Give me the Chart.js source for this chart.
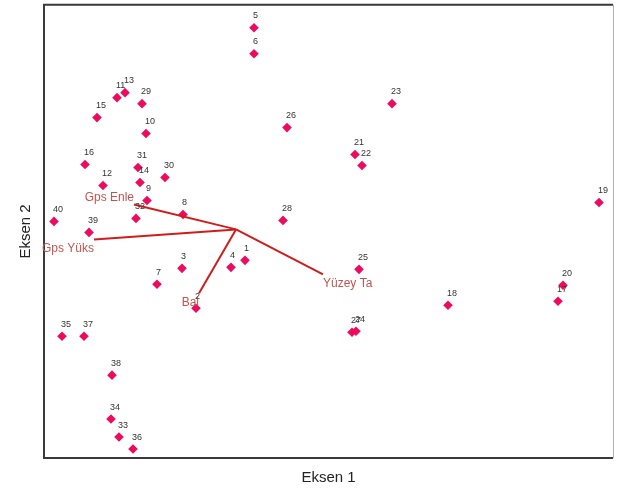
<!DOCTYPE html>
<html>
<head>
    <title>Eksen 1 / Eksen 2</title>
    <script src="https://cdn.jsdelivr.net/npm/chart.js"></script>
    <style>
        body { margin: 0; padding: 0; background: #fff; }
        canvas { display: block; }
    </style>
</head>
<body>
<canvas id="biplot" width="620" height="491"></canvas>
<script>
    // Noktalar (site skorlari)
    var siteLabels = ['1','2','3','4','5','6','7','8','9','10','11','12','13','14','15','16','17','18','19','20',
                      '21','22','23','24','25','26','27','28','29','30','31','32','33','34','35','36','37','38','39','40'];
    var siteX = [201,152,138,187,210,210,113,139,103,102, 73, 59, 81, 96, 53, 41,514,404,555,519,
                 311,318,348,312,315,243,308,239, 98,121, 94, 92, 75, 67, 18, 89, 40, 68, 45, 10];
    var siteY = [198,150,190,191,431,405,174,244,258,325,361,273,366,276,341,294,157,153,256,173,
                 304,293,355,127,189,331,126,238,355,281,291,240, 21, 39,122,  9,122, 83,226,237];

    // Degisken oklari
    var varLabels = ['Gps Enle', 'Gps Yüks', 'Bal', 'Yüzey Ta'];
    var arrowOrigin = [192, 229];
    var varX = [90, 50, 155, 279];
    var varY = [254, 219, 165, 184];

    var points = siteX.map(function (x, i) { return {x: x, y: siteY[i]}; });

    var datasets = [];
    varLabels.forEach(function (name, i) {
        datasets.push({
            label: name,
            data: [{x: arrowOrigin[0], y: arrowOrigin[1]}, {x: varX[i], y: varY[i]}],
            showLine: true,
            borderColor: '#d01c1c',
            borderWidth: 2,
            pointRadius: 0,
            order: 0
        });
    });
    datasets.push({
        label: 'sites',
        data: points,
        pointStyle: 'rectRot',
        pointRadius: 4.8,
        backgroundColor: '#ee0a5c',
        borderColor: '#ee0a5c',
        borderWidth: 0,
        order: 1
    });

    // cerceve + etiketler
    var labelsPlugin = {
        id: 'labels',
        beforeDatasetsDraw: function (chart) {
            var a = chart.chartArea, ctx = chart.ctx;
            ctx.save();
            ctx.lineWidth = 2;
            ctx.strokeStyle = '#3a3a3a';
            ctx.beginPath();
            ctx.moveTo(a.right, a.top);
            ctx.lineTo(a.left, a.top);
            ctx.lineTo(a.left, a.bottom);
            ctx.lineTo(a.right, a.bottom);
            ctx.stroke();
            ctx.lineWidth = 1;
            ctx.strokeStyle = '#b0b0b0';
            ctx.beginPath();
            ctx.moveTo(a.right + 0.5, a.top);
            ctx.lineTo(a.right + 0.5, a.bottom);
            ctx.stroke();
            ctx.restore();
        },
        afterDatasetsDraw: function (chart) {
            var ctx = chart.ctx;
            ctx.save();
            // nokta numaralari
            var meta = chart.getDatasetMeta(chart.data.datasets.length - 1);
            ctx.font = '9px "Liberation Sans", Arial, sans-serif';
            ctx.fillStyle = '#333';
            ctx.textAlign = 'left';
            ctx.textBaseline = 'middle';
            meta.data.forEach(function (el, i) {
                ctx.fillText(siteLabels[i], el.x - 1, el.y - 12);
            });
            // degisken adlari
            var xs = chart.scales.x, ys = chart.scales.y;
            var ox = xs.getPixelForValue(arrowOrigin[0]), oy = ys.getPixelForValue(arrowOrigin[1]);
            ctx.font = '12px "Liberation Sans", Arial, sans-serif';
            ctx.fillStyle = '#c25450';
            varLabels.forEach(function (name, i) {
                var ex = xs.getPixelForValue(varX[i]), ey = ys.getPixelForValue(varY[i]);
                ctx.textAlign = ex < ox ? 'right' : 'left';
                ctx.fillText(name, ex, ey + (ey > oy ? 9 : -7));
            });
            ctx.restore();
        }
    };

    new Chart(document.getElementById('biplot'), {
        type: 'scatter',
        data: { datasets: datasets },
        options: {
            responsive: false,
            animation: false,
            layout: { padding: { top: 4, right: 7, left: 0, bottom: 0 } },
            plugins: { legend: { display: false }, tooltip: { enabled: false } },
            scales: {
                x: {
                    min: 0, max: 569,
                    grid: { display: false },
                    border: { display: false },
                    ticks: { display: false },
                    title: { display: true, text: 'Eksen 1', color: '#222',
                             font: { family: '"Liberation Sans", Arial, sans-serif', size: 15 },
                             padding: { top: 0, bottom: 4 } },
                    afterFit: function (s) { s.height = 33; }
                },
                y: {
                    min: 0, max: 454,
                    grid: { display: false },
                    border: { display: false },
                    ticks: { display: false },
                    title: { display: true, text: 'Eksen 2', color: '#222',
                             font: { family: '"Liberation Sans", Arial, sans-serif', size: 15 },
                             padding: { top: 17, bottom: 0 } },
                    afterFit: function (s) { s.width = 44; }
                }
            }
        },
        plugins: [labelsPlugin]
    });
</script>
</body>
</html>
